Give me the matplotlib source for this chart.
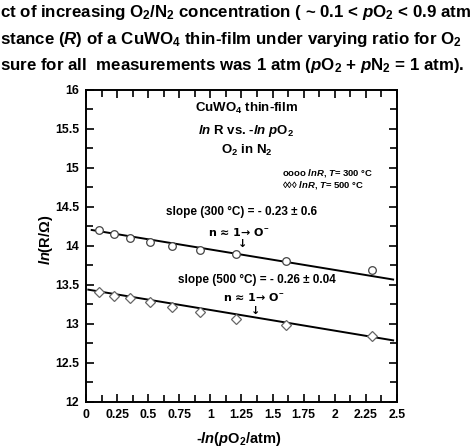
import matplotlib
matplotlib.use('Agg')
import matplotlib.pyplot as plt
from matplotlib.ticker import MultipleLocator

plt.rcParams['font.family'] = ['Liberation Sans', 'DejaVu Sans']
plt.rcParams['font.weight'] = 'bold'
plt.rcParams['mathtext.fontset'] = 'custom'
plt.rcParams['mathtext.rm'] = 'Liberation Sans:bold'
plt.rcParams['mathtext.bf'] = 'Liberation Sans:bold'
plt.rcParams['mathtext.it'] = 'Liberation Sans:bold:italic'

# -ln(pO2) for pO2 = 0.9 ... 0.1
x_lnpo2 = [0.105, 0.223, 0.357, 0.511, 0.693, 0.916, 1.204, 1.609, 2.303]
lnR_300 = [14.21, 14.16, 14.10, 14.05, 14.00, 13.95, 13.90, 13.81, 13.69]
lnR_500 = [13.41, 13.36, 13.33, 13.28, 13.22, 13.15, 13.06, 12.99, 12.85]

# fitted lines (end points)
fit_x_300 = [0.045, 2.47]
fit_y_300 = [14.205, 13.57]
fit_x_500 = [0.018, 2.47]
fit_y_500 = [13.44, 12.79]

xticks = [0, 0.25, 0.5, 0.75, 1, 1.25, 1.5, 1.75, 2, 2.25, 2.5]
xticklabels = ['0', '0.25', '0.5', '0.75', '1', '1.25', '1.5', '1.75', '2', '2.25', '2.5']
yticks = [12, 12.5, 13, 13.5, 14, 14.5, 15, 15.5, 16]
yticklabels = ['12', '12.5', '13', '13.5', '14', '14.5', '15', '15.5', '16']

fig = plt.figure(figsize=(4.73, 4.47), dpi=100)
ax = fig.add_axes([0.182, 0.1007, 0.657, 0.698])

ax.plot(x_lnpo2, lnR_300, linestyle='none', marker='o', markersize=5.5,
        markerfacecolor='white', markeredgecolor='#444444', markeredgewidth=0.9, zorder=3)
ax.plot(x_lnpo2, lnR_500, linestyle='none', marker='D', markersize=5,
        markerfacecolor='white', markeredgecolor='#666666', markeredgewidth=0.9, zorder=3)
ax.plot(fit_x_300, fit_y_300, color='black', linewidth=1.4, zorder=2)
ax.plot(fit_x_500, fit_y_500, color='black', linewidth=1.4, zorder=2)

ax.set_xlim(0, 2.5)
ax.set_ylim(12, 16)
ax.set_xticks(xticks)
ax.set_xticklabels(xticklabels)
ax.set_yticks(yticks)
ax.set_yticklabels(yticklabels)
ax.xaxis.set_minor_locator(MultipleLocator(0.125))
ax.yaxis.set_minor_locator(MultipleLocator(0.25))
ax.tick_params(which='both', direction='in', top=True, right=True, width=1.2)
ax.tick_params(which='major', length=6, labelsize=8.8, pad=5)
ax.tick_params(which='minor', length=5)
for s in ax.spines.values():
    s.set_linewidth(1.4)

ax.set_xlabel('-$\\mathit{ln}$($\\mathit{p}$O$_2$/atm)', fontsize=10.5, fontweight='bold')
ax.set_ylabel('$\\mathit{ln}$(R/\u03a9)', fontsize=10.5, fontweight='bold')
ax.xaxis.set_label_coords(0.49, -0.09)
ax.yaxis.set_label_coords(-0.10, 0.52)

ax.text(1.29, 15.76, 'CuWO$_4$ thin-film', ha='center', va='center', fontsize=9.5)
ax.text(1.29, 15.48, '$\\mathit{ln}$ R vs. -$\\mathit{ln}$ $\\mathit{p}$O$_2$', ha='center', va='center', fontsize=9.5)
ax.text(1.29, 15.23, 'O$_2$ in N$_2$', ha='center', va='center', fontsize=9.5)

ax.text(1.58, 14.93, 'oooo $\\mathit{lnR}$, $\\mathit{T}$= 300 \u00b0C', ha='left', va='center', fontsize=6.8)
ax.text(1.58, 14.78, '\u25ca\u25ca\u25ca $\\mathit{lnR}$, $\\mathit{T}$= 500 \u00b0C', ha='left', va='center', fontsize=6.8)

arrow_font = ['DejaVu Sans']
ax.text(1.25, 14.43, 'slope (300 \u00b0C) = - 0.23 \u00b1 0.6', ha='center', va='center', fontsize=8.5)
ax.text(1.23, 14.18, 'n \u2248 1\u2192 O$^{-}$', ha='center', va='center', fontsize=8, family=arrow_font)
ax.text(1.26, 14.03, '\u2193', ha='center', va='center', fontsize=8, family=arrow_font)

ax.text(1.37, 13.57, 'slope (500 \u00b0C) = - 0.26 \u00b1 0.04', ha='center', va='center', fontsize=8.5)
ax.text(1.35, 13.34, 'n \u2248 1\u2192 O$^{-}$', ha='center', va='center', fontsize=8, family=arrow_font)
ax.text(1.36, 13.17, '\u2193', ha='center', va='center', fontsize=8, family=arrow_font)

# caption text (cropped at the image edges in the original)
fig.text(0.0, 0.971, 'ct of increasing O$_2$/N$_2$ concentration ( ~ 0.1 < $\\mathit{p}$O$_2$ < 0.9 atm',
         ha='left', va='center', fontsize=12.2)
fig.text(0.0, 0.911, 'stance ($\\mathit{R}$) of a CuWO$_4$ thin-film under varying ratio for O$_2$',
         ha='left', va='center', fontsize=12.2)
fig.text(0.0, 0.854, 'sure for all  measurements was 1 atm ($\\mathit{p}$O$_2$ + $\\mathit{p}$N$_2$ = 1 atm).',
         ha='left', va='center', fontsize=12.2)

fig.savefig('out.png', dpi=100)
